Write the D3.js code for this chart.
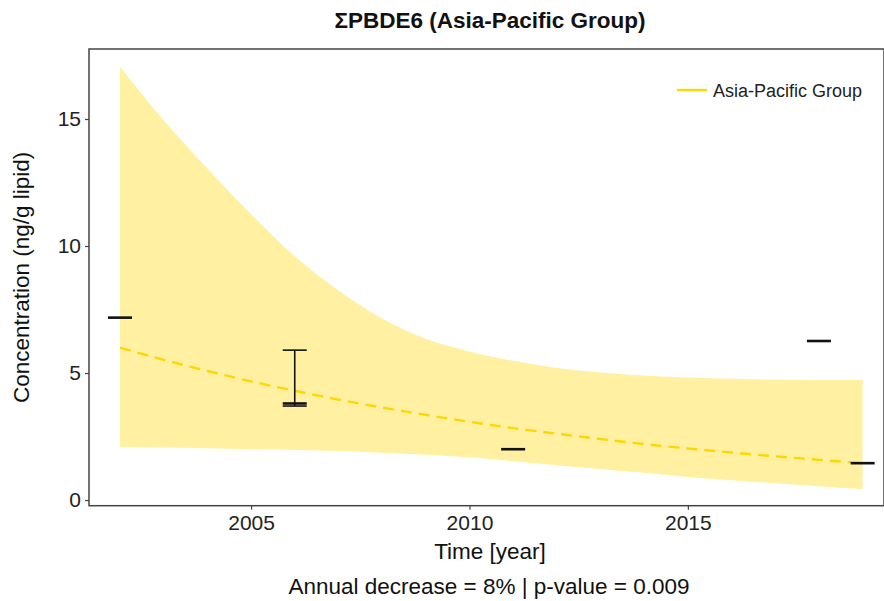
<!DOCTYPE html>
<html>
<head>
<meta charset="utf-8">
<script src="https://cdn.jsdelivr.net/npm/d3@7"></script>
<style>
  html, body { margin: 0; padding: 0; background: #fff; }
  svg { display: block; font-family: "Liberation Sans", Arial, Helvetica, sans-serif; }
</style>
</head>
<body>
<svg id="chart" width="884" height="601"></svg>
<script>
// Observed concentrations per sampling year
const obsYears = [2002, 2006, 2011, 2018, 2019];
const obsValues = [7.18, 3.8, 2.0, 6.26, 1.45];

// Spread for the year with several samples
const errYears = [2006];
const errLow = [3.7];
const errHigh = [5.9];

// Fitted log-linear trend and its confidence band
const fitYears = [2002, 2003, 2004, 2005, 2006, 2007, 2008, 2009, 2010, 2011, 2012, 2013, 2014, 2015, 2016, 2017, 2018, 2019];
const fitValues = [6.0, 5.52, 5.08, 4.67, 4.30, 3.95, 3.64, 3.35, 3.08, 2.83, 2.61, 2.40, 2.20, 2.03, 1.87, 1.72, 1.58, 1.45];
const bandUpper = [17.06, 14.95, 13.05, 11.25, 9.6, 8.25, 7.15, 6.35, 5.85, 5.48, 5.2, 5.02, 4.9, 4.82, 4.77, 4.74, 4.72, 4.72];
const bandLower = [2.10, 2.07, 2.04, 2.00, 1.97, 1.93, 1.86, 1.78, 1.68, 1.53, 1.37, 1.22, 1.07, 0.91, 0.78, 0.66, 0.54, 0.43];

const xTicks = [2005, 2010, 2015];
const yTicks = [0, 5, 10, 15];

const seriesName = "Asia-Pacific Group";
const titleText = "ΣPBDE6 (Asia-Pacific Group)";
const xTitle = "Time [year]";
const yTitle = "Concentration (ng/g lipid)";
const captionText = "Annual decrease = 8% | p-value = 0.009";

const fitColor = "#FFD700";
const bandColor = "#FFF1A1";
const markColor = "#111";

const panel = { left: 89, right: 884, top: 49, bottom: 505.7 };

const svg = d3.select("#chart");

const x = d3.scaleLinear().domain([2001.29, 2019.49]).range([panel.left, panel.right]);
const y = d3.scaleLinear().domain([-0.224, 17.756]).range([panel.bottom, panel.top]);

const fitData = fitYears.map((yr, i) => ({ yr, fit: fitValues[i], lo: bandLower[i], hi: bandUpper[i] }));

// Confidence band
svg.append("path")
  .datum(fitData)
  .attr("fill", bandColor)
  .attr("d", d3.area()
    .x(d => x(d.yr))
    .y0(d => y(d.lo))
    .y1(d => y(d.hi))
    .curve(d3.curveMonotoneX));

// Trend line
svg.append("path")
  .datum(fitData)
  .attr("fill", "none")
  .attr("stroke", fitColor)
  .attr("stroke-width", 2.4)
  .attr("stroke-dasharray", "11,7")
  .attr("d", d3.line()
    .x(d => x(d.yr))
    .y(d => y(d.fit))
    .curve(d3.curveMonotoneX));

// Error bars
const capHalf = 12;
const errG = svg.append("g").attr("stroke", markColor).attr("stroke-width", 1.6);
errYears.forEach((yr, i) => {
  errG.append("line").attr("x1", x(yr)).attr("x2", x(yr)).attr("y1", y(errLow[i])).attr("y2", y(errHigh[i]));
  errG.append("line").attr("x1", x(yr) - capHalf).attr("x2", x(yr) + capHalf).attr("y1", y(errHigh[i])).attr("y2", y(errHigh[i]));
  errG.append("line").attr("x1", x(yr) - capHalf).attr("x2", x(yr) + capHalf).attr("y1", y(errLow[i])).attr("y2", y(errLow[i]));
});

// Observed values as short horizontal marks
svg.append("g")
  .selectAll("line")
  .data(obsYears.map((yr, i) => ({ yr, v: obsValues[i] })))
  .join("line")
  .attr("x1", d => x(d.yr) - capHalf)
  .attr("x2", d => x(d.yr) + capHalf)
  .attr("y1", d => y(d.v))
  .attr("y2", d => y(d.v))
  .attr("stroke", markColor)
  .attr("stroke-width", 2.6);

// Panel frame
svg.append("rect")
  .attr("x", panel.left)
  .attr("y", panel.top)
  .attr("width", panel.right - panel.left)
  .attr("height", panel.bottom - panel.top)
  .attr("fill", "none")
  .attr("stroke", "#444")
  .attr("stroke-width", 1.5);

// Axes
const axisFont = 21;
const xAxis = svg.append("g")
  .attr("transform", `translate(0,${panel.bottom})`)
  .call(d3.axisBottom(x).tickValues(xTicks).tickFormat(d3.format("d")).tickSize(4).tickPadding(5));
const yAxis = svg.append("g")
  .attr("transform", `translate(${panel.left},0)`)
  .call(d3.axisLeft(y).tickValues(yTicks).tickFormat(d3.format("d")).tickSize(4).tickPadding(4));
[xAxis, yAxis].forEach(g => {
  g.select(".domain").remove();
  g.selectAll(".tick line").attr("stroke", "#444").attr("stroke-width", 1.2);
  g.selectAll(".tick text")
    .attr("fill", "#222")
    .style("font-size", axisFont + "px")
    .style("font-family", "'Liberation Sans', Arial, sans-serif");
});

// Titles
svg.append("text")
  .attr("x", 490)
  .attr("y", 28)
  .attr("text-anchor", "middle")
  .style("font-size", "22.5px")
  .style("font-weight", "bold")
  .attr("fill", "#111")
  .text(titleText);

svg.append("text")
  .attr("x", 490)
  .attr("y", 559)
  .attr("text-anchor", "middle")
  .style("font-size", "22.5px")
  .attr("fill", "#111")
  .text(xTitle);

svg.append("text")
  .attr("x", 489)
  .attr("y", 594)
  .attr("text-anchor", "middle")
  .style("font-size", "22.5px")
  .attr("fill", "#111")
  .text(captionText);

svg.append("text")
  .attr("transform", `translate(29,${(panel.top + panel.bottom) / 2}) rotate(-90)`)
  .attr("text-anchor", "middle")
  .style("font-size", "22.5px")
  .attr("fill", "#111")
  .text(yTitle);

// Legend
const legend = svg.append("g").attr("transform", "translate(677,90)");
legend.append("line")
  .attr("x1", 0).attr("x2", 30).attr("y1", 0).attr("y2", 0)
  .attr("stroke", fitColor).attr("stroke-width", 2.4);
legend.append("text")
  .attr("x", 36).attr("y", 6.5)
  .style("font-size", "18px")
  .attr("fill", "#222")
  .text(seriesName);
</script>
</body>
</html>
